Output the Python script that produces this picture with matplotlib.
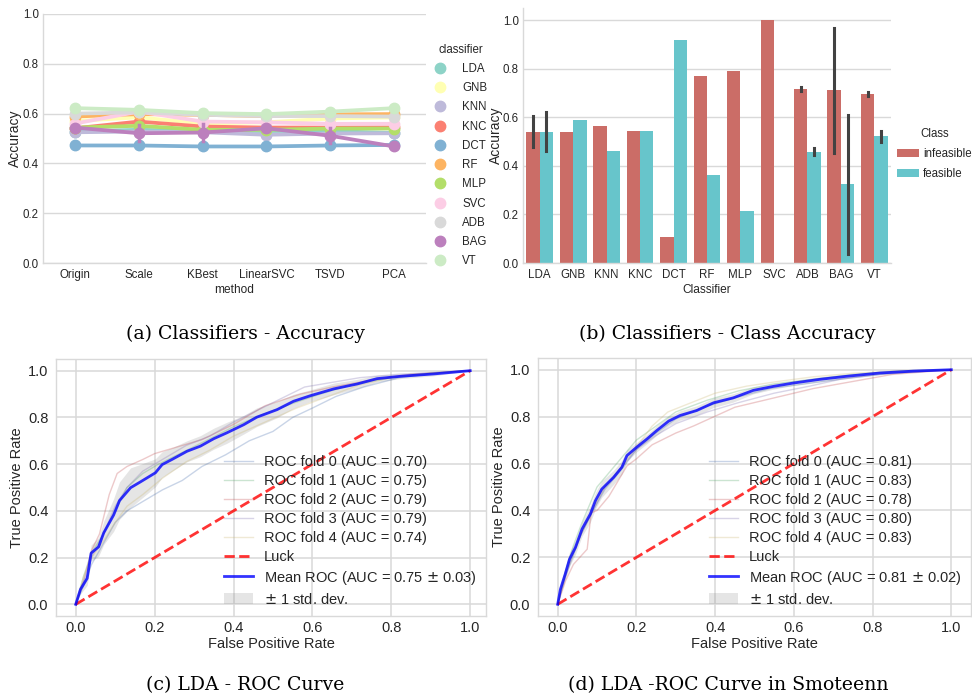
import numpy as np
import matplotlib
matplotlib.use('Agg')
import matplotlib.pyplot as plt
from matplotlib.lines import Line2D
from matplotlib.patches import Patch
import seaborn as sns

plt.rcParams['font.family'] = ['Liberation Sans', 'DejaVu Sans']

# ---------------- data: (a) accuracy per method ----------------
methods = ['Origin', 'Scale', 'KBest', 'LinearSVC', 'TSVD', 'PCA']
classifiers = ['LDA', 'GNB', 'KNN', 'KNC', 'DCT', 'RF', 'MLP', 'SVC', 'ADB', 'BAG', 'VT']
acc_lda = [0.528, 0.535, 0.530, 0.530, 0.530, 0.522]
acc_gnb = [0.570, 0.585, 0.560, 0.565, 0.580, 0.585]
acc_knn = [0.525, 0.528, 0.525, 0.515, 0.520, 0.521]
acc_knc = [0.541, 0.568, 0.548, 0.544, 0.544, 0.545]
acc_dct = [0.472, 0.472, 0.468, 0.468, 0.472, 0.474]
acc_rf = [0.588, 0.598, 0.595, 0.590, 0.597, 0.598]
acc_mlp = [0.544, 0.551, 0.535, 0.535, 0.540, 0.540]
acc_svc = [0.560, 0.608, 0.568, 0.565, 0.559, 0.559]
acc_adb = [0.600, 0.605, 0.595, 0.590, 0.590, 0.588]
acc_bag = [0.544, 0.521, 0.524, 0.541, 0.511, 0.468]
acc_vt = [0.622, 0.615, 0.602, 0.598, 0.608, 0.622]
err_bag = [0.0, 0.032, 0.036, 0.0, 0.030, 0.0]

# ---------------- data: (b) class accuracy ----------------
clf_b = ['LDA', 'GNB', 'KNN', 'KNC', 'DCT', 'RF', 'MLP', 'SVC', 'ADB', 'BAG', 'VT']
infeasible = [0.540, 0.540, 0.566, 0.544, 0.109, 0.771, 0.790, 1.000, 0.716, 0.713, 0.694]
feasible = [0.540, 0.589, 0.463, 0.544, 0.920, 0.363, 0.213, 0.000, 0.459, 0.324, 0.522]
inf_lo = [0.478, 0.540, 0.566, 0.544, 0.109, 0.771, 0.790, 1.000, 0.707, 0.453, 0.686]
inf_hi = [0.604, 0.540, 0.566, 0.544, 0.109, 0.771, 0.790, 1.000, 0.725, 0.967, 0.703]
fea_lo = [0.462, 0.589, 0.463, 0.544, 0.920, 0.363, 0.213, 0.000, 0.445, 0.036, 0.500]
fea_hi = [0.622, 0.589, 0.463, 0.544, 0.920, 0.363, 0.213, 0.000, 0.473, 0.611, 0.544]

# ---------------- data: (c) LDA ROC ----------------
c_mean_fpr = [0, 0.012, 0.029, 0.039, 0.058, 0.071, 0.096, 0.111, 0.139, 0.164, 0.202, 0.219, 0.244, 0.282,
              0.316, 0.350, 0.383, 0.426, 0.459, 0.510, 0.552, 0.595, 0.654, 0.713, 0.764, 0.823, 0.907, 1]
c_mean_tpr = [0, 0.064, 0.111, 0.219, 0.246, 0.306, 0.382, 0.444, 0.499, 0.524, 0.563, 0.598, 0.620, 0.655,
              0.677, 0.709, 0.734, 0.769, 0.801, 0.833, 0.869, 0.893, 0.922, 0.943, 0.966, 0.976, 0.986, 1]
c_std = [0, 0.02, 0.03, 0.035, 0.04, 0.05, 0.07, 0.08, 0.085, 0.075, 0.06, 0.055, 0.05, 0.045,
         0.045, 0.045, 0.045, 0.04, 0.04, 0.035, 0.03, 0.025, 0.025, 0.02, 0.015, 0.01, 0.008, 0]
c_auc = [0.70, 0.75, 0.79, 0.79, 0.74]
c_mean_auc, c_std_auc = 0.75, 0.03
c_f0_fpr = [0, 0.02, 0.04, 0.07, 0.10, 0.13, 0.17, 0.22, 0.27, 0.32, 0.38, 0.44, 0.50, 0.55, 0.60, 0.66, 0.73, 0.82, 0.92, 1]
c_f0_tpr = [0, 0.08, 0.17, 0.26, 0.35, 0.40, 0.44, 0.49, 0.53, 0.59, 0.64, 0.70, 0.74, 0.80, 0.84, 0.89, 0.93, 0.97, 0.99, 1]
c_f1_fpr = [0, 0.02, 0.04, 0.07, 0.10, 0.13, 0.17, 0.21, 0.27, 0.33, 0.40, 0.47, 0.55, 0.62, 0.70, 0.80, 0.90, 1]
c_f1_tpr = [0, 0.12, 0.22, 0.30, 0.40, 0.50, 0.56, 0.60, 0.65, 0.70, 0.76, 0.81, 0.86, 0.90, 0.94, 0.97, 0.99, 1]
c_f2_fpr = [0, 0.02, 0.04, 0.06, 0.085, 0.105, 0.13, 0.17, 0.20, 0.25, 0.32, 0.40, 0.48, 0.57, 0.65, 0.75, 0.85, 1]
c_f2_tpr = [0, 0.10, 0.23, 0.30, 0.47, 0.56, 0.59, 0.62, 0.645, 0.67, 0.705, 0.77, 0.85, 0.90, 0.93, 0.96, 0.985, 1]
c_f3_fpr = [0, 0.02, 0.04, 0.07, 0.10, 0.13, 0.17, 0.22, 0.28, 0.34, 0.40, 0.46, 0.52, 0.58, 0.65, 0.72, 0.82, 1]
c_f3_tpr = [0, 0.10, 0.20, 0.30, 0.42, 0.50, 0.57, 0.62, 0.68, 0.72, 0.78, 0.83, 0.88, 0.93, 0.95, 0.97, 0.985, 1]
c_f4_fpr = [0, 0.02, 0.04, 0.07, 0.10, 0.13, 0.17, 0.22, 0.28, 0.34, 0.40, 0.48, 0.56, 0.64, 0.72, 0.80, 0.90, 1]
c_f4_tpr = [0, 0.12, 0.20, 0.27, 0.35, 0.42, 0.47, 0.54, 0.61, 0.66, 0.72, 0.78, 0.84, 0.89, 0.94, 0.97, 0.99, 1]

# ---------------- data: (d) LDA ROC in Smoteenn ----------------
d_mean_fpr = [0, 0.007, 0.019, 0.030, 0.045, 0.062, 0.083, 0.096, 0.112, 0.142, 0.163, 0.176, 0.201, 0.227,
              0.252, 0.282, 0.311, 0.353, 0.396, 0.446, 0.497, 0.548, 0.598, 0.666, 0.734, 0.818, 0.903, 1]
d_mean_tpr = [0, 0.064, 0.128, 0.192, 0.242, 0.321, 0.385, 0.442, 0.491, 0.541, 0.584, 0.634, 0.670, 0.705,
              0.741, 0.781, 0.805, 0.826, 0.859, 0.880, 0.912, 0.929, 0.943, 0.959, 0.972, 0.986, 0.994, 1]
d_std = [0, 0.02, 0.025, 0.03, 0.03, 0.03, 0.035, 0.035, 0.035, 0.03, 0.03, 0.025, 0.02, 0.02,
         0.02, 0.02, 0.02, 0.02, 0.02, 0.018, 0.015, 0.012, 0.01, 0.01, 0.008, 0.005, 0.003, 0]
d_auc = [0.81, 0.83, 0.78, 0.80, 0.83]
d_mean_auc, d_std_auc = 0.81, 0.02
d_f0_fpr = [0, 0.02, 0.04, 0.06, 0.09, 0.12, 0.16, 0.20, 0.25, 0.30, 0.37, 0.45, 0.54, 0.63, 0.72, 0.82, 0.90, 1]
d_f0_tpr = [0, 0.12, 0.21, 0.30, 0.40, 0.49, 0.57, 0.66, 0.73, 0.79, 0.84, 0.88, 0.92, 0.94, 0.96, 0.98, 0.99, 1]
d_f1_fpr = [0, 0.02, 0.04, 0.06, 0.08, 0.10, 0.13, 0.16, 0.20, 0.25, 0.30, 0.38, 0.46, 0.55, 0.65, 0.75, 0.87, 1]
d_f1_tpr = [0, 0.14, 0.25, 0.34, 0.42, 0.50, 0.56, 0.62, 0.70, 0.76, 0.82, 0.87, 0.91, 0.94, 0.96, 0.98, 0.995, 1]
d_f2_fpr = [0, 0.02, 0.04, 0.075, 0.085, 0.10, 0.13, 0.176, 0.20, 0.24, 0.30, 0.345, 0.45, 0.55, 0.65, 0.75, 0.85, 1]
d_f2_tpr = [0, 0.10, 0.17, 0.235, 0.39, 0.40, 0.46, 0.59, 0.62, 0.68, 0.73, 0.76, 0.84, 0.88, 0.92, 0.95, 0.98, 1]
d_f3_fpr = [0, 0.02, 0.04, 0.06, 0.09, 0.12, 0.16, 0.20, 0.25, 0.30, 0.38, 0.46, 0.55, 0.64, 0.72, 0.82, 0.90, 1]
d_f3_tpr = [0, 0.12, 0.22, 0.30, 0.40, 0.50, 0.58, 0.66, 0.72, 0.77, 0.82, 0.86, 0.90, 0.93, 0.96, 0.98, 0.99, 1]
d_f4_fpr = [0, 0.02, 0.04, 0.06, 0.09, 0.12, 0.16, 0.20, 0.24, 0.28, 0.34, 0.40, 0.48, 0.56, 0.65, 0.75, 0.87, 1]
d_f4_tpr = [0, 0.13, 0.22, 0.30, 0.41, 0.50, 0.58, 0.67, 0.76, 0.82, 0.86, 0.90, 0.93, 0.95, 0.97, 0.985, 0.995, 1]

GRID = '#d9d9d9'
TXT = '#262626'


def style_axes(ax, fs, all_spines=False):
    for side in ['top', 'right', 'left', 'bottom']:
        ax.spines[side].set_color(GRID)
        ax.spines[side].set_linewidth(1.0)
    if not all_spines:
        ax.spines['top'].set_visible(False)
        ax.spines['right'].set_visible(False)
    ax.tick_params(length=0, labelsize=fs, labelcolor=TXT)
    ax.set_axisbelow(True)


fig = plt.figure(figsize=(9.72, 6.98), dpi=100)
W, H = 972.0, 698.0

# ---------------- (a) ----------------
ax1 = fig.add_axes([43 / W, (H - 263) / H, 383 / W, 249 / H])
set3 = sns.color_palette('Set3', 12)
acc_all = [acc_lda, acc_gnb, acc_knn, acc_knc, acc_dct, acc_rf, acc_mlp, acc_svc, acc_adb, acc_bag, acc_vt]
xs = np.arange(len(methods))
for i, (name, vals) in enumerate(zip(classifiers, acc_all)):
    ax1.plot(xs, vals, color=set3[i], lw=2.7, marker='o', ms=7.5, zorder=3 + i)
    if name == 'BAG':
        for x, v, e in zip(xs, vals, err_bag):
            if e > 0:
                ax1.plot([x, x], [v - e, v + e], color=set3[i], lw=2.5, zorder=3 + i)
ax1.set_xlim(-0.5, 5.5)
ax1.set_ylim(0, 1.0)
ax1.set_xticks(xs)
ax1.set_xticklabels(methods)
ax1.set_yticks(np.arange(0, 1.01, 0.2))
ax1.yaxis.grid(True, color=GRID, lw=1.0)
ax1.xaxis.grid(False)
style_axes(ax1, 8.3)
ax1.tick_params(axis='x', pad=4)
ax1.tick_params(axis='y', pad=3)
ax1.set_ylabel('Accuracy', fontsize=10, color=TXT)
ax1.yaxis.set_label_coords(-0.055, 0.5)
ax1.set_xlabel('method', fontsize=8.6, color=TXT)
ax1.xaxis.set_label_coords(0.5, -0.085)
handles_a = [Line2D([], [], ls='', marker='o', ms=7.5, color=set3[i]) for i in range(len(classifiers))]
leg = ax1.legend(handles_a, classifiers, title='classifier', loc='upper left', bbox_to_anchor=(1.01, 0.9),
                 frameon=False, fontsize=8.3, title_fontsize=8.3, labelspacing=0.63, handletextpad=1.4,
                 borderaxespad=0, handlelength=1.0)
for t in leg.get_texts():
    t.set_color(TXT)
leg.get_title().set_color(TXT)

# ---------------- (b) ----------------
ax2 = fig.add_axes([523 / W, (H - 263) / H, 368 / W, 255 / H])
pal = sns.color_palette('hls', 2, desat=0.75)
xb = np.arange(len(clf_b))
bw = 0.4
ax2.bar(xb - bw / 2, infeasible, bw, color=pal[0], zorder=2)
ax2.bar(xb + bw / 2, feasible, bw, color=pal[1], zorder=2)
for x, lo, hi in zip(xb - bw / 2, inf_lo, inf_hi):
    if hi - lo > 0:
        ax2.plot([x, x], [lo, hi], color='#424242', lw=2.2, zorder=4)
for x, lo, hi in zip(xb + bw / 2, fea_lo, fea_hi):
    if hi - lo > 0:
        ax2.plot([x, x], [lo, hi], color='#424242', lw=2.2, zorder=4)
ax2.set_xlim(-0.5, len(clf_b) - 0.5)
ax2.set_ylim(0, 1.05)
ax2.set_xticks(xb)
ax2.set_xticklabels(clf_b)
ax2.set_yticks(np.arange(0, 1.01, 0.2))
ax2.yaxis.grid(True, color=GRID, lw=1.0)
ax2.xaxis.grid(False)
style_axes(ax2, 8.3)
ax2.tick_params(axis='x', pad=4)
ax2.tick_params(axis='y', pad=3)
ax2.set_ylabel('Accuracy', fontsize=10, color=TXT)
ax2.yaxis.set_label_coords(-0.055, 0.5)
ax2.set_xlabel('Classifier', fontsize=8.6, color=TXT)
ax2.xaxis.set_label_coords(0.5, -0.083)
handles_b = [Patch(facecolor=pal[0]), Patch(facecolor=pal[1])]
leg2 = ax2.legend(handles_b, ['infeasible', 'feasible'], title='Class', loc='upper left',
                  bbox_to_anchor=(1.003, 0.548), frameon=False, fontsize=8.3, title_fontsize=8.3,
                  labelspacing=0.7, handlelength=1.9, handletextpad=0.4, borderaxespad=0)
for t in leg2.get_texts():
    t.set_color(TXT)
leg2.get_title().set_color(TXT)

# ---------------- (c), (d) ROC ----------------
deep = ['#4C72B0', '#55A868', '#C44E52', '#8172B2', '#CCB974']


def roc_panel(ax, folds, aucs, mfpr, mtpr, std, mauc, sauc, xmax):
    for i, ((fx, fy), a) in enumerate(zip(folds, aucs)):
        ax.plot(fx, fy, color=deep[i], lw=1, alpha=0.3,
                label='ROC fold %d (AUC = %0.2f)' % (i, a))
    ax.plot([0, 1], [0, 1], ls='--', lw=2, color='r', alpha=0.8, label='Luck')
    mfpr = np.array(mfpr)
    mtpr = np.array(mtpr)
    std = np.array(std)
    ax.plot(mfpr, mtpr, color='b', lw=2, alpha=0.8,
            label='Mean ROC (AUC = %0.2f $\\pm$ %0.2f)' % (mauc, sauc))
    ax.fill_between(mfpr, np.maximum(mtpr - std, 0), np.minimum(mtpr + std, 1), color='grey', alpha=0.2,
                    lw=0, label='$\\pm$ 1 std. dev.')
    ax.set_xlim(-0.05, xmax)
    ax.set_ylim(-0.05, 1.05)
    ax.set_xticks(np.arange(0, 1.01, 0.2))
    ax.set_yticks(np.arange(0, 1.01, 0.2))
    ax.grid(True, color=GRID, lw=1.1)
    style_axes(ax, 10.5, all_spines=True)
    ax.tick_params(axis='x', pad=3.5)
    ax.tick_params(axis='y', pad=5.5)
    ax.set_xlabel('False Positive Rate', fontsize=10.5, color=TXT)
    ax.xaxis.set_label_coords(0.5, -0.083)
    ax.set_ylabel('True Positive Rate', fontsize=10.5, color=TXT)
    ax.yaxis.set_label_coords(-0.075, 0.5)
    lg = ax.legend(loc='lower right', frameon=False, fontsize=10.5, labelspacing=0.34,
                   handlelength=2.0, handletextpad=0.7, borderaxespad=0.25)
    for t in lg.get_texts():
        t.set_color(TXT)


ax3 = fig.add_axes([56 / W, (H - 616) / H, 430 / W, 257 / H])
roc_panel(ax3, [(c_f0_fpr, c_f0_tpr), (c_f1_fpr, c_f1_tpr), (c_f2_fpr, c_f2_tpr), (c_f3_fpr, c_f3_tpr),
                (c_f4_fpr, c_f4_tpr)], c_auc, c_mean_fpr, c_mean_tpr, c_std, c_mean_auc, c_std_auc, 1.04)

ax4 = fig.add_axes([538 / W, (H - 616) / H, 433 / W, 258 / H])
roc_panel(ax4, [(d_f0_fpr, d_f0_tpr), (d_f1_fpr, d_f1_tpr), (d_f2_fpr, d_f2_tpr), (d_f3_fpr, d_f3_tpr),
                (d_f4_fpr, d_f4_tpr)], d_auc, d_mean_fpr, d_mean_tpr, d_std, d_mean_auc, d_std_auc, 1.05)

# ---------------- captions ----------------
cap = dict(fontsize=13.6, family='DejaVu Serif', ha='center', va='center', color='black')
fig.text(245 / W, 1 - 334 / H, '(a) Classifiers - Accuracy', **cap)
fig.text(727 / W, 1 - 334 / H, '(b) Classifiers - Class Accuracy', **cap)
fig.text(245 / W, 1 - 685 / H, '(c) LDA - ROC Curve', **cap)
fig.text(728 / W, 1 - 685 / H, '(d) LDA -ROC Curve in Smoteenn', **cap)

fig.savefig('out.png', dpi=100)
